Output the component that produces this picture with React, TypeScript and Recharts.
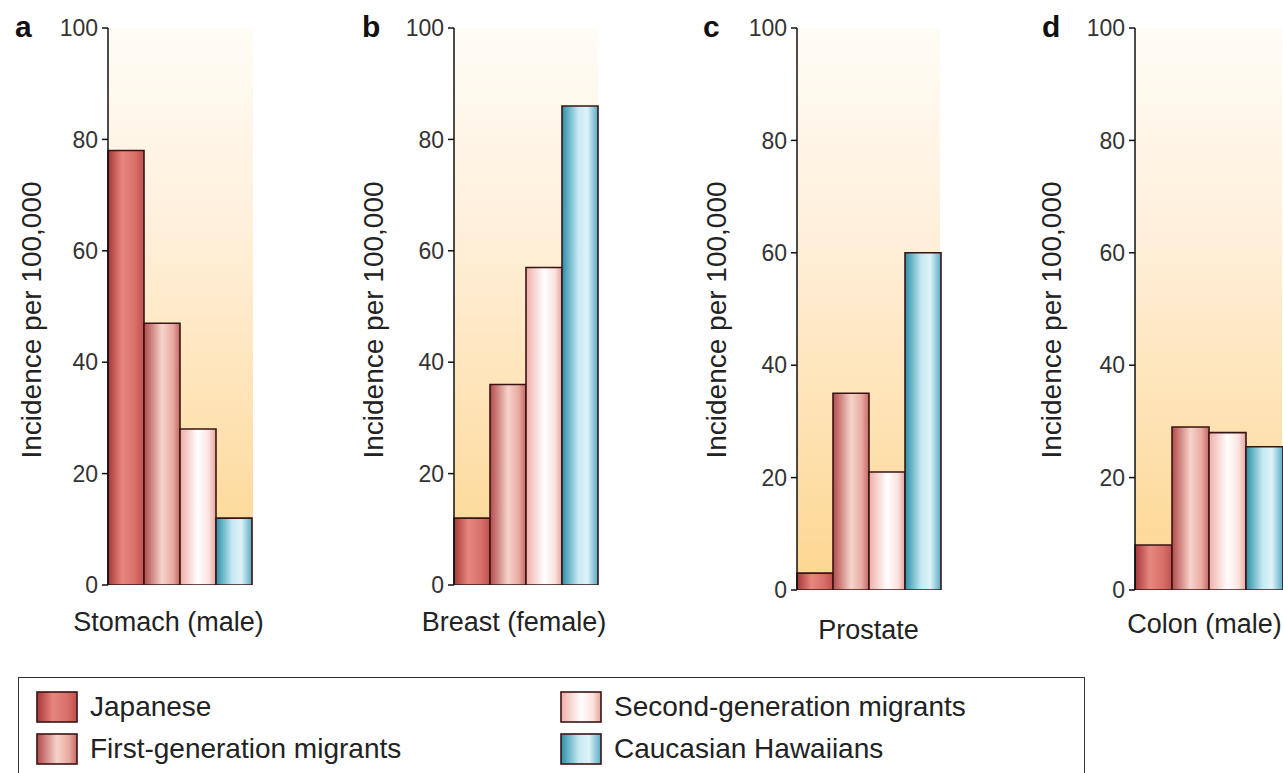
import React from 'react';
import { BarChart, Bar, XAxis, YAxis, ReferenceArea, Label } from 'recharts';

// data
const cancers = ['Stomach (male)', 'Breast (female)', 'Prostate', 'Colon (male)'];
const letters = ['a', 'b', 'c', 'd'];
const groups = ['Japanese', 'First-generation migrants', 'Second-generation migrants', 'Caucasian Hawaiians'];
const japanese = [78, 12, 3, 8];
const firstGen = [47, 36, 35, 29];
const secondGen = [28, 57, 21, 28];
const caucasian = [12, 86, 60, 25.5];
const yTicks = [0, 20, 40, 60, 80, 100];

const seriesKeys = ['japanese', 'firstGen', 'secondGen', 'caucasian'];

// horizontal gradients for the bars
const gradStops: [number, string][][] = [
  [[0, '#a8363a'], [0.4, '#e6877e'], [0.75, '#d87068'], [1, '#c0504e']],
  [[0, '#b24a4a'], [0.5, '#f7d3cb'], [0.8, '#e8aaa2'], [1, '#c46862']],
  [[0, '#eeaea6'], [0.5, '#ffffff'], [0.8, '#fbe2de'], [1, '#e6a49c']],
  [[0, '#2a8fa8'], [0.45, '#c6e9f2'], [0.7, '#def3f8'], [1, '#56abc4']],
];

// panel geometry (page pixels)
const AXIS_W = 100;
const EXTRA_R = 70;
const panels = [
  { axisX: 108, plotRight: 253, bottom: 585, tickMargin: 27, dx: -12, labelX: 31, letterX: 15 },
  { axisX: 454, plotRight: 598, bottom: 585, tickMargin: 27, dx: -12, labelX: 373, letterX: 362 },
  { axisX: 797, plotRight: 940, bottom: 590, tickMargin: 30, dx: 0, labelX: 716, letterX: 703 },
  { axisX: 1135, plotRight: 1282, bottom: 590, tickMargin: 24, dx: -4, labelX: 1051, letterX: 1042 },
];

const FONT = '"Liberation Sans", Arial, Helvetica, sans-serif';

function Gradients({ suffix }: { suffix: string }) {
  return (
    <defs>
      {gradStops.map((stops, gi) => (
        <linearGradient key={gi} id={`g${gi}-${suffix}`} x1="0" y1="0" x2="1" y2="0">
          {stops.map(([o, c], si) => (
            <stop key={si} offset={o} stopColor={c} />
          ))}
        </linearGradient>
      ))}
      <linearGradient id={`bg-${suffix}`} x1="0" y1="0" x2="0" y2="1">
        <stop offset={0} stopColor="#fffcf6" />
        <stop offset={0.35} stopColor="#fff0dc" />
        <stop offset={1} stopColor="#fdd68f" />
      </linearGradient>
    </defs>
  );
}

function Panel({ i }: { i: number }) {
  const p = panels[i];
  const data = [
    {
      name: cancers[i],
      japanese: japanese[i],
      firstGen: firstGen[i],
      secondGen: secondGen[i],
      caucasian: caucasian[i],
    },
  ];
  const left = p.axisX - AXIS_W;
  const width = p.plotRight - left + EXTRA_R;
  const height = p.bottom + 60;

  const renderLabel = () => (
    <g>
      <text x={p.letterX - left} y={37} fontSize={30} fontWeight="bold" fill="#111" fontFamily={FONT}>
        {letters[i]}
      </text>
      <text
        x={p.labelX - left}
        y={320}
        transform={`rotate(-90, ${p.labelX - left}, 320)`}
        textAnchor="middle"
        dominantBaseline="central"
        fontSize={28}
        fill="#222"
        fontFamily={FONT}
      >
        Incidence per 100,000
      </text>
    </g>
  );

  return (
    <div style={{ position: 'absolute', left, top: 0 }}>
      <BarChart
        width={width}
        height={height}
        data={data}
        margin={{ top: 28, right: EXTRA_R, bottom: 0, left: 0 }}
        barCategoryGap={0}
        barGap={0}
      >
        <Gradients suffix={String(i)} />
        <ReferenceArea y1={0} y2={100} fill={`url(#bg-${i})`} fillOpacity={1} stroke="none" />
        <XAxis
          dataKey="name"
          axisLine={false}
          tickLine={false}
          tickSize={0}
          tickMargin={p.tickMargin}
          height={60}
          interval={0}
          tick={{ fontSize: 27, fill: '#222', fontFamily: FONT, dx: p.dx }}
        />
        <YAxis
          domain={[0, 100]}
          ticks={yTicks}
          width={AXIS_W}
          allowDataOverflow
          axisLine={{ stroke: '#111', strokeWidth: 1.5 }}
          tickLine={{ stroke: '#111', strokeWidth: 1.5 }}
          tickSize={6}
          tickMargin={4}
          tick={{ fontSize: 23, fill: '#333', fontFamily: FONT }}
        >
          <Label content={renderLabel} />
        </YAxis>
        {seriesKeys.map((k, gi) => (
          <Bar
            key={k}
            dataKey={k}
            name={groups[gi]}
            fill={`url(#g${gi}-${i})`}
            stroke="#3a1414"
            strokeWidth={1.6}
            isAnimationActive={false}
          />
        ))}
      </BarChart>
    </div>
  );
}

function LegendBox() {
  const pos = [
    { x: 17, y: 13 },
    { x: 17, y: 55 },
    { x: 541, y: 13 },
    { x: 541, y: 55 },
  ];
  return (
    <div
      style={{
        position: 'absolute',
        left: 18,
        top: 677,
        width: 1067,
        height: 110,
        border: '1.6px solid #333',
        boxSizing: 'border-box',
        fontFamily: FONT,
      }}
    >
      <svg width={0} height={0} style={{ position: 'absolute' }}>
        <Gradients suffix="legend" />
      </svg>
      {groups.map((g, gi) => (
        <div
          key={g}
          style={{ position: 'absolute', left: pos[gi].x, top: pos[gi].y, display: 'flex', alignItems: 'center' }}
        >
          <svg width={42} height={32}>
            <rect x={1} y={1} width={40} height={30} fill={`url(#g${gi}-legend)`} stroke="#3a1414" strokeWidth={1.6} />
          </svg>
          <span style={{ marginLeft: 12, fontSize: 28, color: '#222', lineHeight: '32px' }}>{g}</span>
        </div>
      ))}
    </div>
  );
}

export default function App() {
  return (
    <div style={{ position: 'absolute', left: 0, top: 0, width: 1283, height: 773, background: '#fff', overflow: 'hidden' }}>
      {panels.map((_, i) => (
        <Panel key={i} i={i} />
      ))}
      <LegendBox />
    </div>
  );
}
